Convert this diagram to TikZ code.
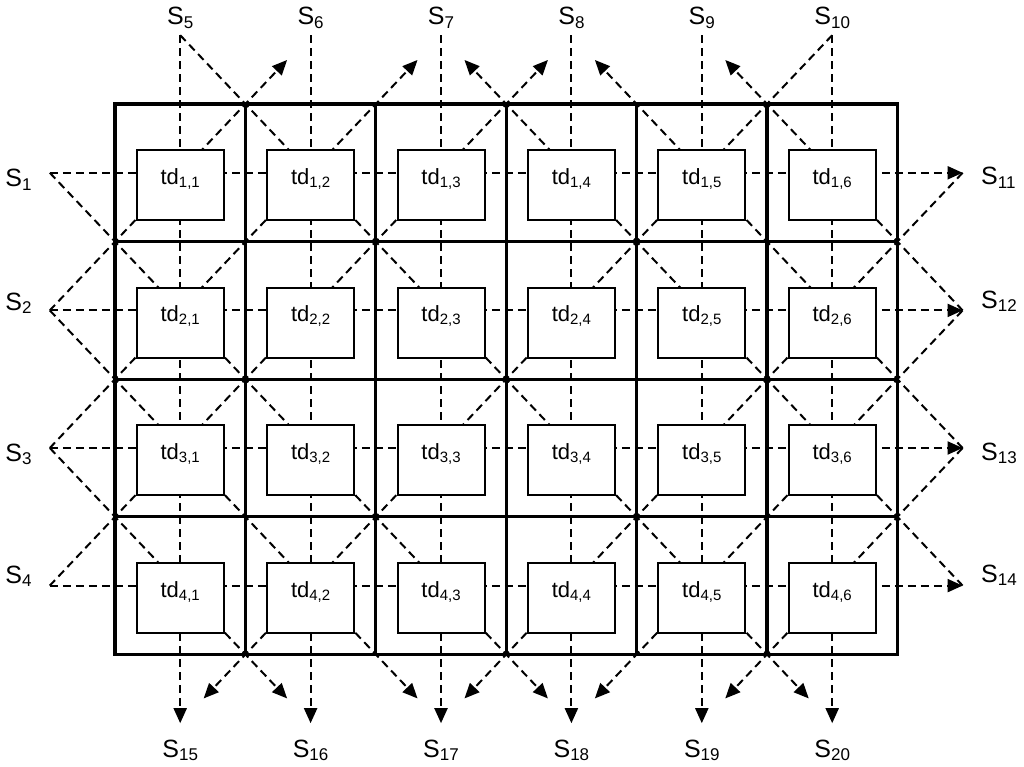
\documentclass[tikz,border=0pt]{standalone}
\usepackage{fontspec}
\setmainfont{Liberation Sans}
\usetikzlibrary{arrows.meta,calc}
\newcommand{\Slab}[1]{S\raisebox{-3.5pt}{\fontsize{17}{17}\selectfont #1}}
\newcommand{\tdlab}[1]{td\raisebox{-3pt}{\fontsize{15}{15}\selectfont #1}}
\tikzset{
  sig/.style={dash pattern=on 8pt off 5pt, line width=2pt},
  outsig/.style={sig, -{Triangle[length=15pt,width=13pt]}},
  gridline/.style={line width=3.2pt, line cap=rect},
  tdbox/.style={draw, line width=2pt, fill=white, minimum width=87pt, minimum height=70pt,
    inner sep=0pt, text height=11pt, text depth=13pt, font=\fontsize{22}{26}\selectfont},
  slabel/.style={font=\fontsize{25}{30}\selectfont, inner sep=0pt},
}
\begin{document}
\begin{tikzpicture}[x=1pt,y=-1pt]
\useasboundingbox (0,0) rectangle (1024,767);
% cell centres (including virtual border cells)
\foreach \ii in {0,...,5}{
  \foreach \jj in {0,...,7}{
    \coordinate (c-\ii-\jj) at ({115+130.4*(\jj-0.5)},{104+137.6*(\ii-0.5)});
  }
}
% grid corners
\foreach \rr in {0,...,4}{
  \foreach \cc in {0,...,6}{
    \coordinate (k-\rr-\cc) at ({115+130.4*\cc},{104+137.6*\rr});
  }
}
% horizontal and vertical signal lines
\foreach \ii in {1,...,4} \draw[outsig] (c-\ii-0) -- (c-\ii-7);
\foreach \jj in {1,...,6} \draw[outsig] (c-0-\jj) -- (c-5-\jj);
% internal diagonal links
\foreach \ia/\ja/\ib/\jb in {
  0/1/1/2, 0/6/1/5,
  1/0/2/1, 1/1/2/0, 1/2/2/1, 1/2/2/3, 1/3/2/2, 1/4/2/5, 1/5/2/4, 1/5/2/6, 1/6/2/7, 1/7/2/6,
  2/0/3/1, 2/1/3/0, 2/1/3/2, 2/2/3/1, 2/3/3/4, 2/4/3/3, 2/5/3/6, 2/6/3/5, 2/6/3/7, 2/7/3/6,
  3/0/4/1, 3/1/4/0, 3/1/4/2, 3/2/4/3, 3/3/4/2, 3/4/4/5, 3/5/4/4, 3/6/4/5, 3/6/4/7, 3/7/4/6}
  \draw[sig] (c-\ia-\ja) -- (c-\ib-\jb);
% output diagonals with arrows (cell / corner / virtual cell)
\foreach \ia/\ja/\kr/\kc/\ib/\jb in {
  1/1/0/1/0/2, 1/2/0/2/0/3, 1/4/0/3/0/3, 1/3/0/3/0/4, 1/5/0/4/0/4, 1/6/0/5/0/5,
  4/1/4/1/5/2, 4/2/4/1/5/1, 4/2/4/2/5/3, 4/3/4/3/5/4, 4/4/4/3/5/3, 4/5/4/4/5/4, 4/6/4/5/5/5, 4/5/4/5/5/6}
{
  \coordinate (t-\kr-\kc-\jb) at ($(k-\kr-\kc)!0.64!(c-\ib-\jb)$);
  \draw[outsig] (c-\ia-\ja) -- (t-\kr-\kc-\jb);
}
% grid
\draw[gridline] (k-0-0) rectangle (k-4-6);
\foreach \cc in {1,...,5} \draw[gridline] (k-0-\cc) -- (k-4-\cc);
\foreach \rr in {1,...,3} \draw[gridline] (k-\rr-0) -- (k-\rr-6);
% td boxes
\foreach \ii in {1,...,4}{
  \foreach \jj in {1,...,6}{
    \node[tdbox] (td-\ii-\jj) at ($(c-\ii-\jj)+(0,12.4)$) {\tdlab{\ii,\jj}};
  }
}
% labels
\foreach \jj/\n in {1/5,2/6,3/7,4/8,5/9,6/10}
  \node[slabel, anchor=base] (s\n) at ({115+130.4*(\jj-0.5)},25) {\Slab{\n}};
\foreach \jj/\n in {1/15,2/16,3/17,4/18,5/19,6/20}
  \node[slabel, anchor=base] (s\n) at ({115+130.4*(\jj-0.5)},757) {\Slab{\n}};
\foreach \n/\yy in {1/187,2/310,3/461,4/583}
  \node[slabel, anchor=base] (s\n) at (18.5,\yy) {\Slab{\n}};
\foreach \n/\yy in {11/185,12/308,13/460,14/582}
  \node[slabel, anchor=base west] (s\n) at (981,\yy) {\Slab{\n}};
\end{tikzpicture}
\end{document}
